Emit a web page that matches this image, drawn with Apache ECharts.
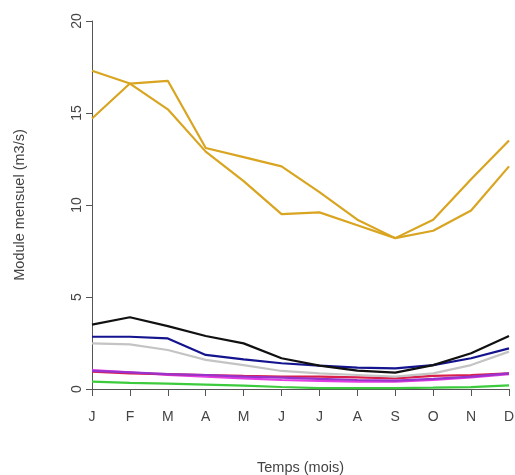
<!DOCTYPE html>
<html>
<head>
<meta charset="utf-8">
<script src="https://cdn.jsdelivr.net/npm/echarts@6/dist/echarts.min.js"></script>
<style>
  html, body { margin: 0; padding: 0; background: #fff; }
  #chart { width: 515px; height: 475px; }
</style>
</head>
<body>
<div id="chart"></div>
<script>
// Monthly flow (m3/s) per station, January to December
const months = ['J', 'F', 'M', 'A', 'M', 'J', 'J', 'A', 'S', 'O', 'N', 'D'];
const yTicks = [0, 5, 10, 15, 20];

const goldA   = [17.3, 16.6, 15.2, 12.9, 11.3, 9.5, 9.6, 8.9, 8.2, 8.6, 9.7, 12.1];
const goldB   = [14.7, 16.6, 16.75, 13.1, 12.6, 12.1, 10.7, 9.2, 8.2, 9.2, 11.4, 13.5];
const black   = [3.5, 3.9, 3.42, 2.88, 2.48, 1.67, 1.27, 1.0, 0.89, 1.3, 1.94, 2.88];
const navy    = [2.84, 2.84, 2.75, 1.85, 1.61, 1.4, 1.27, 1.16, 1.12, 1.3, 1.67, 2.21];
const grey    = [2.48, 2.43, 2.12, 1.58, 1.3, 0.98, 0.85, 0.76, 0.67, 0.85, 1.3, 2.03];
const magenta = [1.03, 0.9, 0.76, 0.67, 0.58, 0.49, 0.44, 0.4, 0.4, 0.49, 0.63, 0.81];
const purple  = [0.99, 0.9, 0.81, 0.76, 0.67, 0.62, 0.55, 0.49, 0.45, 0.55, 0.67, 0.85];
const red     = [0.94, 0.85, 0.81, 0.76, 0.71, 0.67, 0.67, 0.63, 0.58, 0.71, 0.76, 0.85];
const green   = [0.4, 0.33, 0.29, 0.24, 0.18, 0.11, 0.05, 0.05, 0.05, 0.07, 0.1, 0.2];

const seriesDefs = [
  { data: green,   color: '#3ccb3c' },
  { data: magenta, color: '#e23de2' },
  { data: red,     color: '#d8204a' },
  { data: purple,  color: '#9a32cd' },
  { data: grey,    color: '#c4c4c4' },
  { data: navy,    color: '#14148f' },
  { data: black,   color: '#111111' },
  { data: goldA,   color: '#d9a520' },
  { data: goldB,   color: '#d9a520' }
];

const font = 'Liberation Sans, Arial, sans-serif';
const chart = echarts.init(document.getElementById('chart'));
chart.setOption({
  animation: false,
  backgroundColor: '#ffffff',
  grid: { left: 92, right: 6, top: 21, bottom: 86, containLabel: false, outerBoundsMode: 'none' },
  xAxis: {
    type: 'category',
    data: months,
    boundaryGap: false,
    axisLine: { lineStyle: { color: '#555', width: 1 } },
    axisTick: { alignWithLabel: true, length: 7, lineStyle: { color: '#555' } },
    axisLabel: { color: '#444', fontFamily: font, fontSize: 14, margin: 21, interval: 0 },
    name: 'Temps (mois)',
    nameLocation: 'middle',
    nameGap: 71,
    nameTextStyle: { color: '#444', fontFamily: font, fontSize: 14.5 },
    splitLine: { show: false }
  },
  yAxis: {
    type: 'value',
    min: yTicks[0],
    max: yTicks[yTicks.length - 1],
    interval: yTicks[1] - yTicks[0],
    axisLine: { show: true, lineStyle: { color: '#555', width: 1 } },
    axisTick: { show: true, length: 6, lineStyle: { color: '#555' } },
    axisLabel: { color: '#444', fontFamily: font, fontSize: 14, rotate: 90, margin: 8 },
    name: 'Module mensuel (m3/s)',
    nameLocation: 'middle',
    nameGap: 65,
    nameRotate: 90,
    nameTextStyle: { color: '#444', fontFamily: font, fontSize: 14.5 },
    splitLine: { show: false }
  },
  series: seriesDefs.map(s => ({
    type: 'line',
    data: s.data,
    showSymbol: false,
    symbol: 'none',
    lineStyle: { color: s.color, width: 2.2 },
    itemStyle: { color: s.color }
  }))
});
</script>
</body>
</html>
